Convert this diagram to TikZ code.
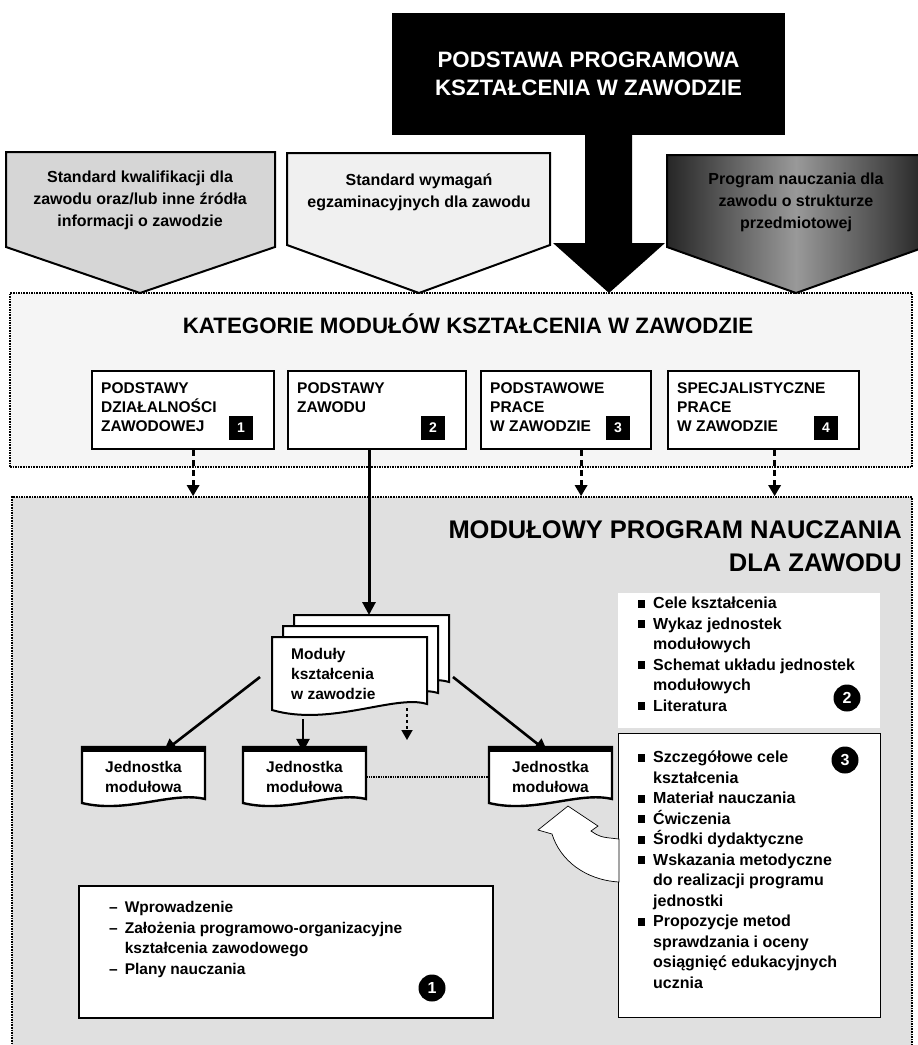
\documentclass[tikz,border=0pt]{standalone}
\usepackage{fontspec}
\setmainfont{Liberation Sans}
\usetikzlibrary{positioning,arrows.meta}

\newcommand{\sq}{\rule[1pt]{7pt}{8pt}}

\tikzset{
  frame/.style={draw, densely dotted, line width=1.6pt, inner sep=0pt},
  pent/.style={draw=black, line width=2pt},
  pentlabel/.style={align=center, font=\bfseries\fontsize{16}{22}\selectfont},
  catbox/.style={draw, line width=2.2pt, fill=white, anchor=north west, minimum height=78pt, inner sep=0pt},
  catlabel/.style={anchor=north west, align=left, inner sep=0pt, font=\bfseries\fontsize{15.5}{19}\selectfont},
  numsq/.style={fill=black, text=white, anchor=south east, font=\bfseries\fontsize{14}{14}\selectfont, minimum size=24pt, inner sep=0pt},
  numdot/.style={circle, fill=black, text=white, font=\bfseries\fontsize{16}{16}\selectfont, minimum size=27pt, inner sep=0pt},
  dasharrow/.style={line width=2.8pt, dash pattern=on 6pt off 4pt, -{Triangle[length=11pt,width=12pt]}},
  solidarrow/.style={line width=2.6pt, -{Triangle[length=13pt,width=13pt]}},
  listtext/.style={anchor=north west, align=left, inner sep=0pt, font=\bfseries\fontsize{16}{20.5}\selectfont},
  jtext/.style={align=center, inner sep=0pt, font=\bfseries\fontsize{15.5}{20}\selectfont},
}

\begin{document}
\begin{tikzpicture}[x=1pt,y=-1pt]
\useasboundingbox (0,0) rectangle (918,1045);

% the two dotted frames
\node[frame, fill=gray!8, minimum width=902pt, minimum height=174pt] (kat) at (461,380) {};
\node[frame, fill=gray!24, minimum width=900pt, minimum height=556pt] (mp) at (462,775) {};

% sources on top
\coordinate (t1) at (140,293); \coordinate (t2) at (419,293); \coordinate (t3) at (796,293);
\draw[pent, fill=gray!32] (6,152) -- (275,152) -- (275,247) -- (t1) -- (6,247) -- cycle;
\draw[pent, fill=gray!12] (287,153) -- (550,153) -- (550,245) -- (t2) -- (287,245) -- cycle;
\draw[pent, left color=black!85, right color=black!85, middle color=black!40] (667,155) -- (925,155) -- (925,247) -- (t3) -- (667,247) -- cycle;
\node[pentlabel] (s1) at (140,200) {Standard kwalifikacji dla\\zawodu oraz/lub inne źródła\\informacji o zawodzie};
\node[pentlabel] (s2) at (419,192) {Standard wymagań\\egzaminacyjnych dla zawodu};
\node[pentlabel] (s3) at (796,202) {Program nauczania dla\\zawodu o strukturze\\przedmiotowej};

% main block with its arrow
\node[fill=black, text=white, align=center, minimum width=393pt, minimum height=122pt,
      font=\bfseries\fontsize{22.3}{28}\selectfont] (pp) at (588.5,74) {PODSTAWA PROGRAMOWA\\KSZTAŁCENIA W ZAWODZIE};
\coordinate (t0) at (609,293);
\fill[black] (585,134) -- (632,134) -- (632,243) -- (665,243) -- (t0) -- (553,243) -- (585,243) -- cycle;

% categories
\node[font=\bfseries\fontsize{22.3}{26}\selectfont] (kattitle) at (468,324) {KATEGORIE MODUŁÓW KSZTAŁCENIA W ZAWODZIE};
\node[catbox, minimum width=182pt] (c1) at (91,370) {};
\node[catbox, minimum width=178pt] (c2) at (287,370) {};
\node[catbox, minimum width=170pt] (c3) at (480,370) {};
\node[catbox, minimum width=191pt] (c4) at (667,370) {};
\node[catlabel] (c1t) at ([shift={(10pt,-12pt)}]c1.north west) {PODSTAWY\\DZIAŁALNOŚCI\\ZAWODOWEJ};
\node[catlabel] (c2t) at ([shift={(10pt,-12pt)}]c2.north west) {PODSTAWY\\ZAWODU};
\node[catlabel] (c3t) at ([shift={(10pt,-12pt)}]c3.north west) {PODSTAWOWE\\PRACE\\W ZAWODZIE};
\node[catlabel] (c4t) at ([shift={(10pt,-12pt)}]c4.north west) {SPECJALISTYCZNE\\PRACE\\W ZAWODZIE};
\node[numsq] (n1) at ([shift={(-22pt,10pt)}]c1.south east) {1};
\node[numsq] (n2) at ([shift={(-22pt,10pt)}]c2.south east) {2};
\node[numsq] (n3) at ([shift={(-22pt,10pt)}]c3.south east) {3};
\node[numsq] (n4) at ([shift={(-22pt,10pt)}]c4.south east) {4};

% white panels
\node[fill=white, minimum width=262pt, minimum height=135pt, anchor=north west] (p2) at (618,593) {};
\node[draw, fill=white, line width=0.9pt, minimum width=262pt, minimum height=284pt, anchor=north west] (p3) at (618,733) {};
\node[draw, fill=white, line width=2pt, minimum width=414pt, minimum height=132pt, anchor=north west] (p1) at (78,885) {};
% white curved arrow into panel 3
\draw[fill=white, line width=0.7pt] (568,806) -- (598,826) -- (591,831) .. controls (600,837) .. (619,839)
  -- (619,882) .. controls (585,880) and (560,860) .. (552,834) -- (538,830) -- cycle;

\node[font=\bfseries\fontsize{25.5}{33}\selectfont, align=right, anchor=north east, inner sep=0pt] (mtitle) at (902,520) {MODUŁOWY PROGRAM NAUCZANIA\\DLA ZAWODU};

% arrows from the categories
\draw[dasharrow] ([xshift=10pt]c1.south) -- ([xshift=10pt]c1.south |- mp.north);
\draw[dasharrow] ([xshift=15pt]c3.south) -- ([xshift=15pt]c3.south |- mp.north);
\draw[dasharrow] ([xshift=11pt]c4.south) -- ([xshift=11pt]c4.south |- mp.north);
\coordinate (modtop) at (369,615);
\draw[solidarrow, line width=3pt] (c2.south -| modtop) -- (modtop);

% modules (stacked documents)
\foreach \s in {22,11,0} {
  \draw[line width=2pt, fill=white] (272+\s,637-\s) -- (427+\s,637-\s) -- (427+\s,704-\s)
    .. controls (395+\s,694-\s) and (330+\s,727-\s) .. (272+\s,710-\s) -- cycle;
}
\node[jtext, anchor=north west, align=left] (mod) at (291,648) {Moduły\\kształcenia\\w zawodzie};

% units
\foreach \n/\x in {j1/82,j2/243,j3/489} {
  \draw[line width=2.4pt, fill=white] (\x,747) -- (\x+123,747) -- (\x+123,799)
    .. controls (\x+90,791) and (\x+45,814) .. (\x,803) -- cycle;
  \draw[line width=6pt] (\x-1,749) -- (\x+124,749);
  \node[jtext, minimum width=123pt, minimum height=50pt] (\n) at (\x+61.5,777) {Jednostka\\modułowa};
}
\coordinate (ml) at (260,677); \coordinate (mb) at (303,719);
\coordinate (md) at (407,708); \coordinate (mdend) at (407,740);
\coordinate (mr) at (453,677);
\draw[solidarrow] (ml) -- ([xshift=20pt]j1.north);
\draw[solidarrow] (mb) -- (mb |- j2.north);
\draw[line width=1.8pt, dashed, -{Triangle[length=10pt,width=11pt]}] (md) -- (mdend);
\draw[solidarrow] (mr) -- ([xshift=-3pt]j3.north);
\draw[densely dotted, line width=1.4pt] (j2.east) -- (j3.west);

% lists
\node[listtext] (l2) at (638,594) {\begin{tabular}{@{}l@{\hspace{8pt}}l@{}}
  \sq & Cele kształcenia\\ \sq & Wykaz jednostek\\ & modułowych\\
  \sq & Schemat układu jednostek\\ & modułowych\\ \sq & Literatura\end{tabular}};
\node[numdot] (o2) at (847,698) {2};
\node[listtext] (l3) at (638,748) {\begin{tabular}{@{}l@{\hspace{8pt}}l@{}}
  \sq & Szczegółowe cele\\ & kształcenia\\ \sq & Materiał nauczania\\ \sq & Ćwiczenia\\
  \sq & Środki dydaktyczne\\ \sq & Wskazania metodyczne\\ & do realizacji programu\\ & jednostki\\
  \sq & Propozycje metod\\ & sprawdzania i oceny\\ & osiągnięć edukacyjnych\\ & ucznia\end{tabular}};
\node[numdot] (o3) at (845,760) {3};
\node[listtext, font=\bfseries\fontsize{15.5}{20.5}\selectfont] (l1) at (109,898) {\begin{tabular}{@{}l@{\hspace{7pt}}l@{}}
  -- & Wprowadzenie\\ -- & Założenia programowo-organizacyjne\\ & kształcenia zawodowego\\
  -- & Plany nauczania\end{tabular}};
\node[numdot] (o1) at (432,988) {1};
\end{tikzpicture}
\end{document}
